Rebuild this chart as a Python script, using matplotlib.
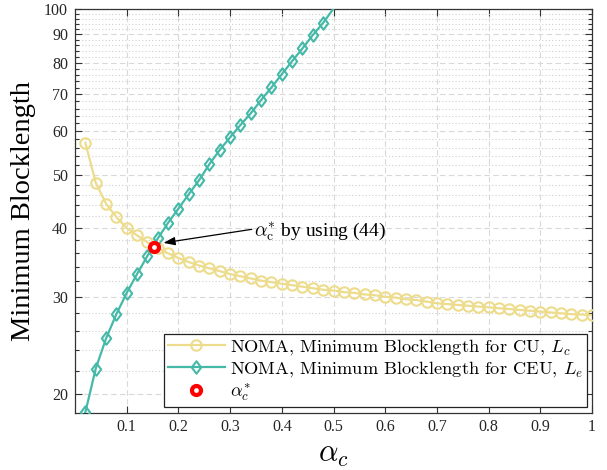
import matplotlib
matplotlib.use('Agg')
import matplotlib.pyplot as plt
from matplotlib.path import Path

# data
alpha_c = [round(0.02 * i, 2) for i in range(1, 51)]
L_c = [57.2, 48.4, 44.3, 41.9, 40.0, 38.8, 37.7, 36.8, 36.0, 35.3,
       34.7, 34.2, 33.8, 33.4, 33.0, 32.7, 32.4, 32.1, 31.9, 31.7,
       31.5, 31.3, 31.1, 30.9, 30.8, 30.6, 30.5, 30.3, 30.2, 30.0,
       29.9, 29.7, 29.6, 29.4, 29.2, 29.1, 29.0, 28.9, 28.8, 28.7,
       28.6, 28.5, 28.4, 28.3, 28.2, 28.1, 28.0, 27.9, 27.85, 27.8]
alpha_e = alpha_c[:25]
L_e = [18.5, 22.2, 25.2, 27.9, 30.5, 33.0, 35.6, 38.3, 40.9, 43.4,
       46.1, 48.9, 52.3, 55.5, 58.5, 61.6, 64.7, 68.4, 72.1, 76.2,
       80.5, 84.9, 89.8, 94.5, 100.3]
alpha_opt = 0.152
L_opt = 37.0

x_ticks = [0.1, 0.2, 0.3, 0.4, 0.5, 0.6, 0.7, 0.8, 0.9, 1.0]
x_tick_labels = ['0.1', '0.2', '0.3', '0.4', '0.5', '0.6', '0.7', '0.8', '0.9', '1']
y_ticks = [20, 30, 40, 50, 60, 70, 80, 90, 100]
y_minor = [v for v in range(20, 101, 2) if v % 10 != 0]

plt.rcParams['font.family'] = ['Liberation Serif', 'DejaVu Serif']
plt.rcParams['mathtext.fontset'] = 'cm'

yellow = '#EDDC8C'
teal = '#45B9A8'
axis_col = '#333333'

# MATLAB-like diamond, a bit taller than wide
diamond = Path([(0, 1), (0.75, 0), (0, -1), (-0.75, 0), (0, 1)],
               [Path.MOVETO, Path.LINETO, Path.LINETO, Path.LINETO, Path.CLOSEPOLY])

fig = plt.figure(figsize=(6.07, 4.70), dpi=100)
ax = fig.add_axes([0.1236, 0.1223, 0.8517, 0.8579])

ax.plot(alpha_c, L_c, color=yellow, lw=1.6, marker='o', ms=7.5, mfc='none',
        mew=1.5, label='NOMA, Minimum Blocklength for CU, $L_c$', zorder=3)
ax.plot(alpha_e, L_e, color=teal, lw=1.6, marker=diamond, ms=9, mfc='none',
        mew=1.5, markevery=list(range(len(L_e) - 1)),
        label='NOMA, Minimum Blocklength for CEU, $L_e$', zorder=3)
ax.plot([alpha_opt], [L_opt], ls='none', marker='o', ms=6.5, mfc='white',
        mec='red', mew=3, label=r'$\alpha_c^{*}$', zorder=4)

ax.set_yscale('log')
ax.set_xlim(0, 1)
ax.set_ylim(18.48, 100)
ax.set_xticks(x_ticks)
ax.set_xticklabels(x_tick_labels)
ax.set_yticks(y_ticks)
ax.set_yticklabels([str(v) for v in y_ticks])
ax.set_yticks(y_minor, minor=True)
ax.set_yticklabels([], minor=True)
ax.set_xticks([], minor=True)

ax.grid(True, which='major', color='#d9d9d9', ls=(0, (5, 3)), lw=0.8)
ax.grid(True, which='minor', axis='y', color='#cfcfcf', ls=(0, (1, 2)), lw=0.8)
ax.set_axisbelow(True)

ax.tick_params(which='both', direction='in', top=True, right=True,
               color=axis_col, labelsize=11.5, labelcolor='#262626')
ax.tick_params(which='major', length=5, width=0.8, pad=5)
ax.tick_params(which='minor', length=3, width=0.8)
for s in ax.spines.values():
    s.set_color(axis_col)
    s.set_linewidth(0.9)

ax.set_xlabel(r'$\alpha_c$', fontsize=22, labelpad=3)
ax.set_ylabel('Minimum Blocklength', fontsize=20.5, labelpad=6)

# arrow pointing at the optimum
ax.annotate('', xy=(0.171, 37.6), xytext=(0.342, 39.8),
            arrowprops=dict(arrowstyle='-|>,head_length=0.7,head_width=0.25',
                            color='k', lw=0.9, shrinkA=0, shrinkB=0))
ax.text(0.347, 39.5, r'$\alpha_{\mathrm{c}}^{*}$ by using (44)', fontsize=14,
        va='center', ha='left')

leg = ax.legend(loc='lower right', bbox_to_anchor=(0.99, 0.013), borderaxespad=0,
                fancybox=False, framealpha=1, edgecolor='#222222',
                prop={'family': 'cmr10', 'size': 13.2}, handlelength=3.1,
                borderpad=0.2, labelspacing=0.12, handletextpad=0.3)
leg.get_frame().set_linewidth(0.9)

fig.savefig('out.png', dpi=100)
